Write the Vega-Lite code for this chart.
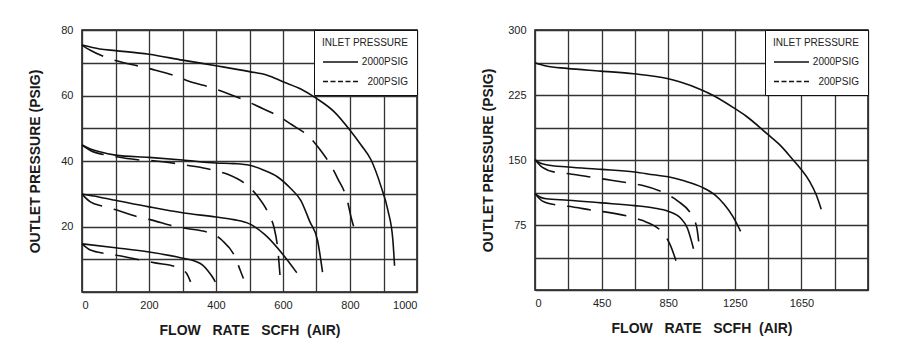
{
  "$schema": "https://vega.github.io/schema/vega-lite/v6.json",
  "background": "white",
  "padding": {"left": 28, "top": 23, "right": 0, "bottom": 0},
  "spacing": 61,
  "datasets": {
    "left": [
      {"curve": "A2000", "inlet": "2000PSIG", "flow": 0, "pressure": 75.4},
      {"curve": "A2000", "inlet": "2000PSIG", "flow": 53, "pressure": 74.2},
      {"curve": "A2000", "inlet": "2000PSIG", "flow": 100, "pressure": 73.7},
      {"curve": "A2000", "inlet": "2000PSIG", "flow": 200, "pressure": 72.6},
      {"curve": "A2000", "inlet": "2000PSIG", "flow": 300, "pressure": 70.8},
      {"curve": "A2000", "inlet": "2000PSIG", "flow": 400, "pressure": 69.1},
      {"curve": "A2000", "inlet": "2000PSIG", "flow": 500, "pressure": 67.3},
      {"curve": "A2000", "inlet": "2000PSIG", "flow": 553, "pressure": 66.2},
      {"curve": "A2000", "inlet": "2000PSIG", "flow": 600, "pressure": 64.2},
      {"curve": "A2000", "inlet": "2000PSIG", "flow": 653, "pressure": 62},
      {"curve": "A2000", "inlet": "2000PSIG", "flow": 700, "pressure": 59.1},
      {"curve": "A2000", "inlet": "2000PSIG", "flow": 753, "pressure": 55},
      {"curve": "A2000", "inlet": "2000PSIG", "flow": 800, "pressure": 49.4},
      {"curve": "A2000", "inlet": "2000PSIG", "flow": 833, "pressure": 44.9},
      {"curve": "A2000", "inlet": "2000PSIG", "flow": 863, "pressure": 40.3},
      {"curve": "A2000", "inlet": "2000PSIG", "flow": 893, "pressure": 32.1},
      {"curve": "A2000", "inlet": "2000PSIG", "flow": 913, "pressure": 25},
      {"curve": "A2000", "inlet": "2000PSIG", "flow": 928, "pressure": 15.8},
      {"curve": "A2000", "inlet": "2000PSIG", "flow": 933, "pressure": 8},

      {"curve": "A200", "inlet": "200PSIG", "flow": 0, "pressure": 75.4},
      {"curve": "A200", "inlet": "200PSIG", "flow": 25, "pressure": 73.8},
      {"curve": "A200", "inlet": "200PSIG", "flow": 73, "pressure": 71.6},
      {"curve": "A200", "inlet": "200PSIG", "flow": 103, "pressure": 70.6},
      {"curve": "A200", "inlet": "200PSIG", "flow": 173, "pressure": 68.9},
      {"curve": "A200", "inlet": "200PSIG", "flow": 213, "pressure": 67.9},
      {"curve": "A200", "inlet": "200PSIG", "flow": 283, "pressure": 65.8},
      {"curve": "A200", "inlet": "200PSIG", "flow": 313, "pressure": 64.6},
      {"curve": "A200", "inlet": "200PSIG", "flow": 393, "pressure": 62.2},
      {"curve": "A200", "inlet": "200PSIG", "flow": 423, "pressure": 61.1},
      {"curve": "A200", "inlet": "200PSIG", "flow": 493, "pressure": 58.2},
      {"curve": "A200", "inlet": "200PSIG", "flow": 523, "pressure": 56.8},
      {"curve": "A200", "inlet": "200PSIG", "flow": 593, "pressure": 53.3},
      {"curve": "A200", "inlet": "200PSIG", "flow": 623, "pressure": 51.3},
      {"curve": "A200", "inlet": "200PSIG", "flow": 683, "pressure": 46.9},
      {"curve": "A200", "inlet": "200PSIG", "flow": 708, "pressure": 43.8},
      {"curve": "A200", "inlet": "200PSIG", "flow": 748, "pressure": 37.7},
      {"curve": "A200", "inlet": "200PSIG", "flow": 763, "pressure": 34.7},
      {"curve": "A200", "inlet": "200PSIG", "flow": 793, "pressure": 27.5},
      {"curve": "A200", "inlet": "200PSIG", "flow": 803, "pressure": 22.9},
      {"curve": "A200", "inlet": "200PSIG", "flow": 818, "pressure": 17.8},

      {"curve": "B2000", "inlet": "2000PSIG", "flow": 0, "pressure": 44.9},
      {"curve": "B2000", "inlet": "2000PSIG", "flow": 25, "pressure": 43.7},
      {"curve": "B2000", "inlet": "2000PSIG", "flow": 53, "pressure": 42.8},
      {"curve": "B2000", "inlet": "2000PSIG", "flow": 100, "pressure": 41.8},
      {"curve": "B2000", "inlet": "2000PSIG", "flow": 200, "pressure": 41.1},
      {"curve": "B2000", "inlet": "2000PSIG", "flow": 300, "pressure": 40.3},
      {"curve": "B2000", "inlet": "2000PSIG", "flow": 400, "pressure": 39.4},
      {"curve": "B2000", "inlet": "2000PSIG", "flow": 453, "pressure": 39.2},
      {"curve": "B2000", "inlet": "2000PSIG", "flow": 500, "pressure": 38.7},
      {"curve": "B2000", "inlet": "2000PSIG", "flow": 543, "pressure": 37.2},
      {"curve": "B2000", "inlet": "2000PSIG", "flow": 583, "pressure": 35.2},
      {"curve": "B2000", "inlet": "2000PSIG", "flow": 623, "pressure": 31.6},
      {"curve": "B2000", "inlet": "2000PSIG", "flow": 653, "pressure": 28},
      {"curve": "B2000", "inlet": "2000PSIG", "flow": 680, "pressure": 21.5},
      {"curve": "B2000", "inlet": "2000PSIG", "flow": 703, "pressure": 15.8},
      {"curve": "B2000", "inlet": "2000PSIG", "flow": 718, "pressure": 6.1},

      {"curve": "B200", "inlet": "200PSIG", "flow": 0, "pressure": 44.9},
      {"curve": "B200", "inlet": "200PSIG", "flow": 25, "pressure": 43.2},
      {"curve": "B200", "inlet": "200PSIG", "flow": 73, "pressure": 41.8},
      {"curve": "B200", "inlet": "200PSIG", "flow": 103, "pressure": 41.3},
      {"curve": "B200", "inlet": "200PSIG", "flow": 173, "pressure": 40.3},
      {"curve": "B200", "inlet": "200PSIG", "flow": 213, "pressure": 40.1},
      {"curve": "B200", "inlet": "200PSIG", "flow": 283, "pressure": 39.2},
      {"curve": "B200", "inlet": "200PSIG", "flow": 313, "pressure": 38.7},
      {"curve": "B200", "inlet": "200PSIG", "flow": 393, "pressure": 37.2},
      {"curve": "B200", "inlet": "200PSIG", "flow": 433, "pressure": 36},
      {"curve": "B200", "inlet": "200PSIG", "flow": 498, "pressure": 32.1},
      {"curve": "B200", "inlet": "200PSIG", "flow": 523, "pressure": 29.4},
      {"curve": "B200", "inlet": "200PSIG", "flow": 561, "pressure": 23},
      {"curve": "B200", "inlet": "200PSIG", "flow": 573, "pressure": 19.8},
      {"curve": "B200", "inlet": "200PSIG", "flow": 585, "pressure": 12.5},
      {"curve": "B200", "inlet": "200PSIG", "flow": 591, "pressure": 5.2},

      {"curve": "C2000", "inlet": "2000PSIG", "flow": 0, "pressure": 29.9},
      {"curve": "C2000", "inlet": "2000PSIG", "flow": 50, "pressure": 29},
      {"curve": "C2000", "inlet": "2000PSIG", "flow": 100, "pressure": 28},
      {"curve": "C2000", "inlet": "2000PSIG", "flow": 200, "pressure": 26},
      {"curve": "C2000", "inlet": "2000PSIG", "flow": 300, "pressure": 24.2},
      {"curve": "C2000", "inlet": "2000PSIG", "flow": 400, "pressure": 22.9},
      {"curve": "C2000", "inlet": "2000PSIG", "flow": 453, "pressure": 22.1},
      {"curve": "C2000", "inlet": "2000PSIG", "flow": 500, "pressure": 20.8},
      {"curve": "C2000", "inlet": "2000PSIG", "flow": 546, "pressure": 17.5},
      {"curve": "C2000", "inlet": "2000PSIG", "flow": 601, "pressure": 11.3},
      {"curve": "C2000", "inlet": "2000PSIG", "flow": 641, "pressure": 5.9},

      {"curve": "C200", "inlet": "200PSIG", "flow": 0, "pressure": 29.9},
      {"curve": "C200", "inlet": "200PSIG", "flow": 25, "pressure": 27.5},
      {"curve": "C200", "inlet": "200PSIG", "flow": 63, "pressure": 26.2},
      {"curve": "C200", "inlet": "200PSIG", "flow": 98, "pressure": 25.2},
      {"curve": "C200", "inlet": "200PSIG", "flow": 168, "pressure": 22.9},
      {"curve": "C200", "inlet": "200PSIG", "flow": 203, "pressure": 22.1},
      {"curve": "C200", "inlet": "200PSIG", "flow": 283, "pressure": 19.9},
      {"curve": "C200", "inlet": "200PSIG", "flow": 313, "pressure": 19.4},
      {"curve": "C200", "inlet": "200PSIG", "flow": 388, "pressure": 17.8},
      {"curve": "C200", "inlet": "200PSIG", "flow": 418, "pressure": 15.8},
      {"curve": "C200", "inlet": "200PSIG", "flow": 460, "pressure": 10},
      {"curve": "C200", "inlet": "200PSIG", "flow": 472, "pressure": 6.7},
      {"curve": "C200", "inlet": "200PSIG", "flow": 482, "pressure": 4.1},

      {"curve": "D2000", "inlet": "2000PSIG", "flow": 0, "pressure": 14.7},
      {"curve": "D2000", "inlet": "2000PSIG", "flow": 100, "pressure": 13.5},
      {"curve": "D2000", "inlet": "2000PSIG", "flow": 200, "pressure": 12.2},
      {"curve": "D2000", "inlet": "2000PSIG", "flow": 297, "pressure": 10.4},
      {"curve": "D2000", "inlet": "2000PSIG", "flow": 340, "pressure": 9.3},
      {"curve": "D2000", "inlet": "2000PSIG", "flow": 360, "pressure": 8.2},
      {"curve": "D2000", "inlet": "2000PSIG", "flow": 375, "pressure": 6.6},
      {"curve": "D2000", "inlet": "2000PSIG", "flow": 388, "pressure": 4.8},
      {"curve": "D2000", "inlet": "2000PSIG", "flow": 398, "pressure": 3.1},

      {"curve": "D200", "inlet": "200PSIG", "flow": 0, "pressure": 14.7},
      {"curve": "D200", "inlet": "200PSIG", "flow": 25, "pressure": 12.8},
      {"curve": "D200", "inlet": "200PSIG", "flow": 73, "pressure": 11.7},
      {"curve": "D200", "inlet": "200PSIG", "flow": 103, "pressure": 11.2},
      {"curve": "D200", "inlet": "200PSIG", "flow": 178, "pressure": 9.7},
      {"curve": "D200", "inlet": "200PSIG", "flow": 218, "pressure": 8.9},
      {"curve": "D200", "inlet": "200PSIG", "flow": 288, "pressure": 7.4},
      {"curve": "D200", "inlet": "200PSIG", "flow": 312, "pressure": 5.7},
      {"curve": "D200", "inlet": "200PSIG", "flow": 324, "pressure": 3.1}
    ],
    "right": [
      {"curve": "T2000", "inlet": "2000PSIG", "flow": 0, "pressure": 262.2},
      {"curve": "T2000", "inlet": "2000PSIG", "flow": 66, "pressure": 258.4},
      {"curve": "T2000", "inlet": "2000PSIG", "flow": 192, "pressure": 255.7},
      {"curve": "T2000", "inlet": "2000PSIG", "flow": 393, "pressure": 252.6},
      {"curve": "T2000", "inlet": "2000PSIG", "flow": 593, "pressure": 249.5},
      {"curve": "T2000", "inlet": "2000PSIG", "flow": 794, "pressure": 244.1},
      {"curve": "T2000", "inlet": "2000PSIG", "flow": 868, "pressure": 240.2},
      {"curve": "T2000", "inlet": "2000PSIG", "flow": 994, "pressure": 231.4},
      {"curve": "T2000", "inlet": "2000PSIG", "flow": 1068, "pressure": 224.8},
      {"curve": "T2000", "inlet": "2000PSIG", "flow": 1194, "pressure": 210.2},
      {"curve": "T2000", "inlet": "2000PSIG", "flow": 1269, "pressure": 200.5},
      {"curve": "T2000", "inlet": "2000PSIG", "flow": 1395, "pressure": 180.1},
      {"curve": "T2000", "inlet": "2000PSIG", "flow": 1469, "pressure": 167.7},
      {"curve": "T2000", "inlet": "2000PSIG", "flow": 1549, "pressure": 150.4},
      {"curve": "T2000", "inlet": "2000PSIG", "flow": 1595, "pressure": 140},
      {"curve": "T2000", "inlet": "2000PSIG", "flow": 1649, "pressure": 125.3},
      {"curve": "T2000", "inlet": "2000PSIG", "flow": 1689, "pressure": 109.9},
      {"curve": "T2000", "inlet": "2000PSIG", "flow": 1719, "pressure": 93.3},

      {"curve": "M2000", "inlet": "2000PSIG", "flow": 0, "pressure": 150.4},
      {"curve": "M2000", "inlet": "2000PSIG", "flow": 30, "pressure": 146.5},
      {"curve": "M2000", "inlet": "2000PSIG", "flow": 67, "pressure": 144.5},
      {"curve": "M2000", "inlet": "2000PSIG", "flow": 198, "pressure": 141.9},
      {"curve": "M2000", "inlet": "2000PSIG", "flow": 400, "pressure": 139.2},
      {"curve": "M2000", "inlet": "2000PSIG", "flow": 598, "pressure": 136.1},
      {"curve": "M2000", "inlet": "2000PSIG", "flow": 713, "pressure": 132.9},
      {"curve": "M2000", "inlet": "2000PSIG", "flow": 800, "pressure": 130.6},
      {"curve": "M2000", "inlet": "2000PSIG", "flow": 895, "pressure": 126},
      {"curve": "M2000", "inlet": "2000PSIG", "flow": 1002, "pressure": 118.7},
      {"curve": "M2000", "inlet": "2000PSIG", "flow": 1077, "pressure": 110.2},
      {"curve": "M2000", "inlet": "2000PSIG", "flow": 1137, "pressure": 98.6},
      {"curve": "M2000", "inlet": "2000PSIG", "flow": 1188, "pressure": 85},
      {"curve": "M2000", "inlet": "2000PSIG", "flow": 1235, "pressure": 67.7},

      {"curve": "M200", "inlet": "200PSIG", "flow": 0, "pressure": 150.4},
      {"curve": "M200", "inlet": "200PSIG", "flow": 45, "pressure": 141.5},
      {"curve": "M200", "inlet": "200PSIG", "flow": 137, "pressure": 135.3},
      {"curve": "M200", "inlet": "200PSIG", "flow": 204, "pressure": 134.1},
      {"curve": "M200", "inlet": "200PSIG", "flow": 360, "pressure": 129.5},
      {"curve": "M200", "inlet": "200PSIG", "flow": 426, "pressure": 127.6},
      {"curve": "M200", "inlet": "200PSIG", "flow": 582, "pressure": 122.9},
      {"curve": "M200", "inlet": "200PSIG", "flow": 648, "pressure": 120.6},
      {"curve": "M200", "inlet": "200PSIG", "flow": 794, "pressure": 110.2},
      {"curve": "M200", "inlet": "200PSIG", "flow": 854, "pressure": 103.2},
      {"curve": "M200", "inlet": "200PSIG", "flow": 955, "pressure": 81.2},
      {"curve": "M200", "inlet": "200PSIG", "flow": 974, "pressure": 69.6},
      {"curve": "M200", "inlet": "200PSIG", "flow": 983, "pressure": 56.1},

      {"curve": "L2000", "inlet": "2000PSIG", "flow": 0, "pressure": 111.3},
      {"curve": "L2000", "inlet": "2000PSIG", "flow": 30, "pressure": 107.3},
      {"curve": "L2000", "inlet": "2000PSIG", "flow": 67, "pressure": 105.2},
      {"curve": "L2000", "inlet": "2000PSIG", "flow": 198, "pressure": 103.6},
      {"curve": "L2000", "inlet": "2000PSIG", "flow": 400, "pressure": 100.5},
      {"curve": "L2000", "inlet": "2000PSIG", "flow": 598, "pressure": 97.4},
      {"curve": "L2000", "inlet": "2000PSIG", "flow": 713, "pressure": 94.7},
      {"curve": "L2000", "inlet": "2000PSIG", "flow": 800, "pressure": 90.9},
      {"curve": "L2000", "inlet": "2000PSIG", "flow": 874, "pressure": 83.1},
      {"curve": "L2000", "inlet": "2000PSIG", "flow": 915, "pressure": 71.5},
      {"curve": "L2000", "inlet": "2000PSIG", "flow": 952, "pressure": 47.6},

      {"curve": "L200", "inlet": "200PSIG", "flow": 0, "pressure": 111.3},
      {"curve": "L200", "inlet": "200PSIG", "flow": 45, "pressure": 102.5},
      {"curve": "L200", "inlet": "200PSIG", "flow": 137, "pressure": 97.8},
      {"curve": "L200", "inlet": "200PSIG", "flow": 198, "pressure": 96.6},
      {"curve": "L200", "inlet": "200PSIG", "flow": 360, "pressure": 91.6},
      {"curve": "L200", "inlet": "200PSIG", "flow": 420, "pressure": 90.1},
      {"curve": "L200", "inlet": "200PSIG", "flow": 575, "pressure": 84.3},
      {"curve": "L200", "inlet": "200PSIG", "flow": 642, "pressure": 80.4},
      {"curve": "L200", "inlet": "200PSIG", "flow": 774, "pressure": 64.6},
      {"curve": "L200", "inlet": "200PSIG", "flow": 810, "pressure": 53},
      {"curve": "L200", "inlet": "200PSIG", "flow": 856, "pressure": 28.2}
    ]
  },
  "hconcat": [
    {
      "width": 335,
      "height": 262,
      "data": {"name": "left"},
      "encoding": {
        "x": {
          "field": "flow", "type": "quantitative",
          "scale": {"domain": [0, 1000], "nice": false},
          "axis": {
            "title": "FLOW\u00a0\u00a0\u00a0RATE\u00a0\u00a0\u00a0SCFH\u00a0\u00a0(AIR)",
            "values": [0, 100, 200, 300, 400, 500, 600, 700, 800, 900, 1000],
            "labelExpr": "datum.value % 200 === 0 ? datum.label : ''",
            "format": "d"
          }
        },
        "y": {
          "field": "pressure", "type": "quantitative",
          "scale": {"domain": [0, 80], "nice": false},
          "axis": {
            "title": "OUTLET PRESSURE (PSIG)",
            "values": [0, 10, 20, 30, 40, 50, 60, 70, 80],
            "labelExpr": "datum.value % 20 === 0 && datum.value > 0 ? datum.label : ''",
            "labelPadding": 9,
            "titlePadding": 18
          }
        },
        "detail": {"field": "curve"}
      },
      "layer": [
        {
          "transform": [{"filter": "datum.inlet === '2000PSIG'"}],
          "mark": {"type": "line", "interpolate": "monotone", "color": "#111", "strokeWidth": 1.6}
        },
        {
          "transform": [{"filter": "datum.inlet === '200PSIG'"}],
          "mark": {"type": "line", "interpolate": "monotone", "color": "#111", "strokeWidth": 1.6, "strokeDash": [24, 12]}
        },
        {
          "mark": {"type": "line", "interpolate": "monotone", "color": "#111", "opacity": 0},
          "encoding": {
            "strokeDash": {
              "field": "inlet", "type": "nominal",
              "scale": {"domain": ["2000PSIG", "200PSIG"], "range": [[1, 0], [5, 2.5]]},
              "legend": {"title": "INLET PRESSURE"}
            }
          }
        }
      ]
    },
    {
      "width": 333,
      "height": 260,
      "data": {"name": "right"},
      "encoding": {
        "x": {
          "field": "flow", "type": "quantitative",
          "scale": {"domain": [0, 2000], "nice": false},
          "axis": {
            "title": "FLOW\u00a0\u00a0\u00a0RATE\u00a0\u00a0\u00a0SCFH\u00a0\u00a0(AIR)",
            "values": [0, 200, 400, 600, 800, 1000, 1200, 1400, 1600, 1800, 2000],
            "labelExpr": "datum.value === 0 ? '0' : datum.value === 400 ? '450' : datum.value === 800 ? '850' : datum.value === 1200 ? '1250' : datum.value === 1600 ? '1650' : ''"
          }
        },
        "y": {
          "field": "pressure", "type": "quantitative",
          "scale": {"domain": [0, 300], "nice": false},
          "axis": {
            "title": "OUTLET PRESSURE (PSIG)",
            "values": [0, 37.5, 75, 112.5, 150, 187.5, 225, 262.5, 300],
            "labelExpr": "datum.value % 75 === 0 && datum.value > 0 ? datum.label : ''",
            "labelPadding": 9,
            "titlePadding": 12
          }
        },
        "detail": {"field": "curve"}
      },
      "layer": [
        {
          "transform": [{"filter": "datum.inlet === '2000PSIG'"}],
          "mark": {"type": "line", "interpolate": "monotone", "color": "#111", "strokeWidth": 1.6}
        },
        {
          "transform": [{"filter": "datum.inlet === '200PSIG'"}],
          "mark": {"type": "line", "interpolate": "monotone", "color": "#111", "strokeWidth": 1.6, "strokeDash": [24, 12]}
        },
        {
          "mark": {"type": "line", "interpolate": "monotone", "color": "#111", "opacity": 0},
          "encoding": {
            "strokeDash": {
              "field": "inlet", "type": "nominal",
              "scale": {"domain": ["2000PSIG", "200PSIG"], "range": [[1, 0], [5, 2.5]]},
              "legend": {"title": "INLET PRESSURE"}
            }
          }
        }
      ]
    }
  ],
  "resolve": {
    "scale": {"strokeDash": "independent"},
    "legend": {"strokeDash": "independent"}
  },
  "config": {
    "font": "Liberation Sans",
    "view": {"stroke": "#111", "strokeWidth": 1.5},
    "axis": {
      "labelFont": "Liberation Sans",
      "labelFontSize": 11,
      "labelColor": "#222",
      "titleFont": "Liberation Sans",
      "titleFontSize": 14,
      "titleFontWeight": "bold",
      "titleColor": "#1a1a1a",
      "ticks": false,
      "domain": false,
      "grid": true,
      "gridColor": "#333",
      "gridWidth": 1.3,
      "gridOpacity": 1,
      "labelPadding": 7
    },
    "axisX": {"titlePadding": 13, "labelPadding": 7},
    "legend": {
      "orient": "top-right",
      "offset": 0,
      "fillColor": "white",
      "strokeColor": "#111",
      "padding": 8,
      "titleFont": "Liberation Sans",
      "titleFontSize": 10,
      "titleFontWeight": "normal",
      "titleColor": "#222",
      "titlePadding": 9,
      "labelFont": "Liberation Sans",
      "labelFontSize": 10,
      "labelColor": "#222",
      "symbolType": "stroke",
      "symbolSize": 1225,
      "symbolStrokeWidth": 1.4,
      "symbolStrokeColor": "#111",
      "symbolOpacity": 1,
      "clipHeight": 10,
      "rowPadding": 9.5,
      "labelAlign": "right",
      "labelOffset": 49
    }
  }
}
